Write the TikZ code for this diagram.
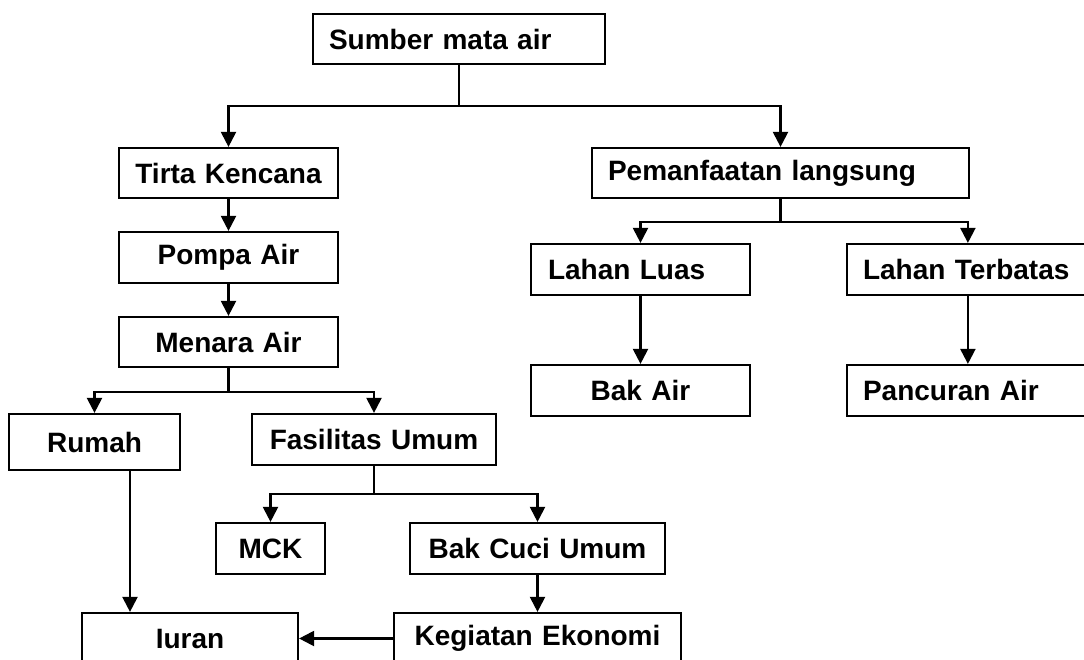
\documentclass[tikz,border=0pt]{standalone}
\usepackage{fontspec}
\setmainfont{Liberation Sans}
\usetikzlibrary{arrows.meta}
\tikzset{
  box/.style={draw, line width=2.2pt, inner sep=0pt, font=\fontsize{28}{32}\selectfont\bfseries},
  arr/.style={line width=2.2pt, -{Triangle[width=15pt,length=15pt]}},
  ln/.style={line width=2.2pt}
}
\newcommand{\bx}[8]{% name, x1, y1, x2, y2, pad, align, text
  \node[box, minimum height={#5-#3}, text width={#4-#2-2*#6}, inner xsep=#6, align=#7] (#1) at ({(#2+#4)/2},{(#3+#5)/2}) {#8};}
\begin{document}
\begin{tikzpicture}[x=1pt,y=-1pt]
\useasboundingbox (0,0) rectangle (1084,660);
\clip (0,0) rectangle (1084,660);
% boxes
\bx{sumber}{313}{14}{605}{64}{16}{left}{Sumber mata air}
\bx{tirta}{119}{148}{338}{198}{4}{center}{Tirta Kencana}
\bx{pompa}{119}{232}{338}{283}{4}{center}{Pompa Air}
\bx{menara}{119}{317}{338}{367}{4}{center}{Menara Air}
\bx{pemanf}{592}{148}{969}{198}{16}{left}{Pemanfaatan langsung}
\bx{lluas}{531}{244}{750}{295}{17}{left}{Lahan Luas}
\bx{lterb}{847}{244}{1095}{295}{16}{left}{Lahan Terbatas}
\bx{bakair}{531}{365}{750}{416}{4}{center}{Bak Air}
\bx{pancuran}{847}{365}{1095}{416}{16}{left}{Pancuran Air}
\bx{rumah}{9}{414}{180}{470}{4}{center}{Rumah}
\bx{fas}{252}{414}{496}{465}{4}{center}{Fasilitas Umum}
\bx{mck}{216}{523}{325}{574}{4}{center}{MCK}
\bx{bakcuci}{410}{523}{665}{574}{4}{center}{Bak Cuci Umum}
\bx{iuran}{82}{613}{298}{664}{4}{center}{Iuran}
\bx{kegiatan}{394}{613}{681}{664}{2}{center}{Kegiatan Ekonomi}
% connectors
\coordinate (j1) at ([yshift=-41pt]sumber.south);
\draw[ln] (sumber.south) -- (j1);
\draw[arr] (j1) -| (tirta.north);
\draw[arr] (j1) -| (pemanf.north);
\draw[arr] (tirta) -- (pompa);
\draw[arr] (pompa) -- (menara);
\coordinate (j2) at ([yshift=-24pt]menara.south);
\draw[ln] (menara.south) -- (j2);
\draw[arr] (j2) -| (rumah.north);
\draw[arr] (j2) -| (fas.north);
\coordinate (j3) at ([yshift=-23pt]pemanf.south);
\coordinate (lt) at ([xshift=122pt]lterb.north west);
\draw[ln] (pemanf.south) -- (j3);
\draw[arr] (j3) -| (lluas.north);
\draw[arr] (j3) -| (lt);
\draw[arr] (lluas) -- (bakair);
\draw[arr] ([xshift=122pt]lterb.south west) -- ([xshift=122pt]pancuran.north west);
\coordinate (j4) at ([yshift=-28pt]fas.south);
\draw[ln] (fas.south) -- (j4);
\draw[arr] (j4) -| (mck.north);
\draw[arr] (j4) -| (bakcuci.north);
\draw[arr] (bakcuci) -- (kegiatan);
\draw[arr] ([xshift=35.5pt]rumah.south) -- ([xshift=35.5pt]rumah.south |- iuran.north);
\draw[arr] (kegiatan.west) -- (kegiatan.west -| iuran.east);
\end{tikzpicture}
\end{document}
